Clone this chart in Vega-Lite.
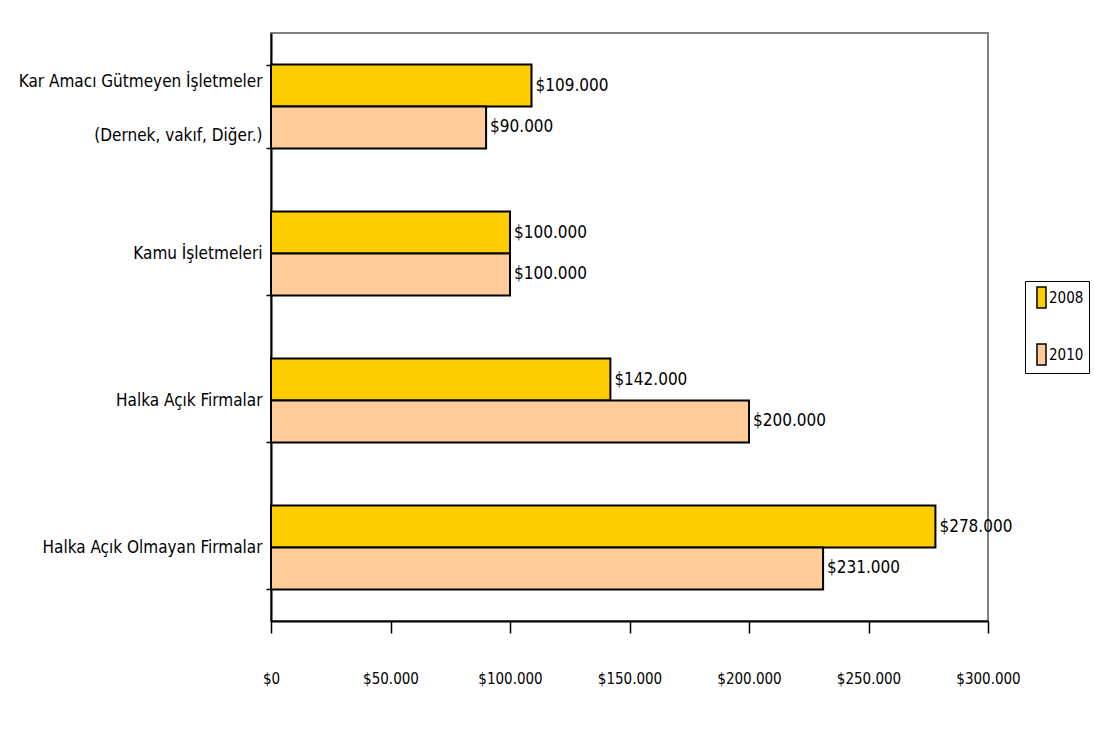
{
  "$schema": "https://vega.github.io/schema/vega-lite/v6.json",
  "width": 717,
  "height": 588,
  "autosize": {"type": "none"},
  "padding": {"left": 271, "top": 33, "right": 106, "bottom": 119},
  "background": "white",
  "config": {
    "locale": {"number": {"decimal": ",", "thousands": ".", "grouping": [3], "currency": ["$", ""]}},
    "view": {"stroke": "#808080", "strokeWidth": 2},
    "font": "Liberation Sans Narrow, DejaVu Sans Condensed, Liberation Sans, sans-serif"
  },
  "data": {
    "values": [
      {"kategori": "Kar Amacı Gütmeyen İşletmeler (Dernek, vakıf, Diğer.)", "yil": "2008", "deger": 109000},
      {"kategori": "Kar Amacı Gütmeyen İşletmeler (Dernek, vakıf, Diğer.)", "yil": "2010", "deger": 90000},
      {"kategori": "Kamu İşletmeleri", "yil": "2008", "deger": 100000},
      {"kategori": "Kamu İşletmeleri", "yil": "2010", "deger": 100000},
      {"kategori": "Halka Açık Firmalar", "yil": "2008", "deger": 142000},
      {"kategori": "Halka Açık Firmalar", "yil": "2010", "deger": 200000},
      {"kategori": "Halka Açık Olmayan Firmalar", "yil": "2008", "deger": 278000},
      {"kategori": "Halka Açık Olmayan Firmalar", "yil": "2010", "deger": 231000}
    ]
  },
  "encoding": {
    "y": {
      "field": "kategori",
      "type": "nominal",
      "sort": null,
      "scale": {"paddingInner": 0.43, "paddingOuter": 0.215},
      "axis": {
        "title": null,
        "domainColor": "black",
        "domainWidth": 2,
        "tickColor": "black",
        "tickWidth": 1.5,
        "tickSize": 5,
        "tickBand": "extent",
        "labelFontSize": 17,
        "labelColor": "black",
        "labelPadding": 4,
        "labelLimit": 300,
        "labelLineHeight": 54,
        "labelOffset": {"condition": {"test": "indexof(datum.label, ' (') > 0", "value": -25}, "value": 0},
        "labelExpr": "indexof(datum.label, ' (') > 0 ? [substring(datum.label, 0, indexof(datum.label, ' (')), substring(datum.label, indexof(datum.label, ' (') + 1)] : datum.label"
      }
    },
    "yOffset": {"field": "yil", "type": "nominal", "sort": ["2008", "2010"]},
    "x": {
      "field": "deger",
      "type": "quantitative",
      "scale": {"domain": [0, 300000]},
      "axis": {
        "title": null,
        "grid": false,
        "values": [0, 50000, 100000, 150000, 200000, 250000, 300000],
        "format": "$,.0f",
        "domainColor": "black",
        "domainWidth": 2,
        "tickColor": "black",
        "tickWidth": 1.5,
        "tickSize": 12,
        "labelFontSize": 15,
        "labelColor": "black",
        "labelPadding": 38,
        "labelFlush": false,
        "labelOverlap": false
      }
    }
  },
  "layer": [
    {
      "mark": {"type": "bar", "stroke": "black", "strokeWidth": 2},
      "encoding": {
        "color": {
          "field": "yil",
          "type": "nominal",
          "scale": {"domain": ["2008", "2010"], "range": ["#FFCC00", "#FFCC99"]},
          "legend": {
            "title": null,
            "orient": "none",
            "legendX": 754,
            "legendY": 248,
            "padding": 5,
            "rowPadding": 30,
            "strokeColor": "black",
            "fillColor": "white",
            "symbolType": "M-0.43,-1H0.43V1H-0.43Z",
            "symbolSize": 441,
            "symbolStrokeColor": "black",
            "symbolStrokeWidth": 1.5,
            "symbolOpacity": 1,
            "labelFontSize": 15,
            "labelColor": "black",
            "labelOffset": -4
          }
        }
      }
    },
    {
      "mark": {"type": "text", "align": "left", "dx": 4, "fontSize": 17, "baseline": "middle", "color": "black"},
      "encoding": {"text": {"field": "deger", "type": "quantitative", "format": "$,.0f"}}
    }
  ]
}
